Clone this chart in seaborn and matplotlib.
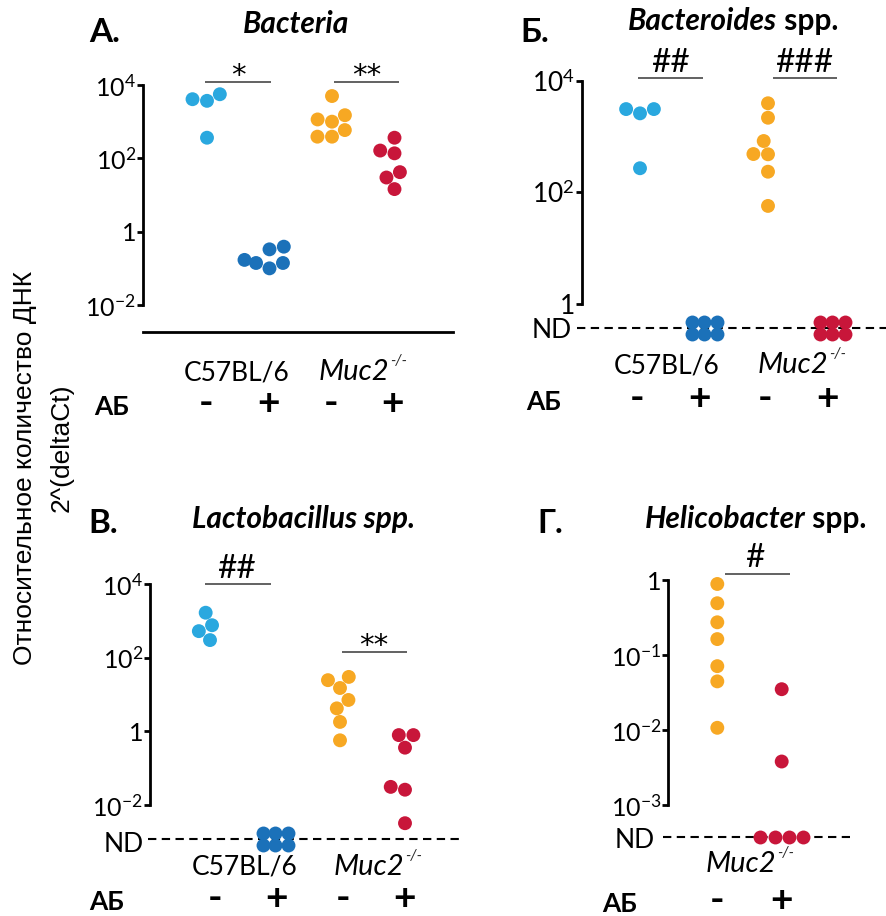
import numpy as np
import pandas as pd
import matplotlib
matplotlib.use("Agg")
import matplotlib.pyplot as plt
from matplotlib.ticker import FixedLocator, FixedFormatter, NullLocator
import seaborn as sns

nan = np.nan

# ---------------- data ----------------
groups = ["C57BL/6 АБ-", "C57BL/6 АБ+", "Muc2 АБ-", "Muc2 АБ+"]
group_colors = ["#2AA8DF", "#1B71B9", "#F7A823", "#C8163A"]

bacteria_c57_minus = [5600, 3700, 4100, 365]
bacteria_c57_plus = [0.39, 0.33, 0.14, 0.17, 0.10, 0.14]
bacteria_muc2_minus = [5000, 1150, 1000, 1500, 590, 390, 390]
bacteria_muc2_plus = [365, 137, 163, 30, 42, 14.5]

bacteroides_c57_minus = [2600, 3100, 3100, 270]
bacteroides_c57_plus = [nan, nan, nan, nan, nan, nan]          # ND
bacteroides_muc2_minus = [3940, 2170, 830, 485, 480, 234, 57]
bacteroides_muc2_plus = [nan, nan, nan, nan, nan, nan]         # ND

lacto_c57_minus = [1660, 525, 760, 300]
lacto_c57_plus = [nan, nan, nan, nan, nan, nan]                # ND
lacto_muc2_minus = [24.5, 30, 15, 7.1, 4.2, 1.8, 0.57]
lacto_muc2_plus = [0.79, 0.79, 0.36, 0.031, 0.026, 0.0032]

helico_muc2_minus = [0.885, 0.49, 0.273, 0.163, 0.071, 0.0445, 0.0107]
helico_muc2_plus = [0.035, 0.0038, nan, nan, nan, nan]         # 4 x ND

panel_letters = ["А.", "Б.", "В.", "Г."]
sig_bacteria = ["*", "**"]
sig_bacteroides = ["##", "###"]
sig_lacto = ["##", "**"]
sig_helico = ["#"]
ab_labels = ["-", "+", "-", "+"]

# ---------------- style ----------------
sns.set_theme(style="white")
FONT = ["Lato", "Open Sans", "DejaVu Sans"]
plt.rcParams["font.family"] = FONT
plt.rcParams["mathtext.fontset"] = "custom"
plt.rcParams["mathtext.rm"] = "Lato"
plt.rcParams["mathtext.it"] = "Lato:italic"
plt.rcParams["mathtext.bf"] = "Lato:bold"

W, H = 886, 916
fig = plt.figure(figsize=(W / 100, H / 100), dpi=100)
fig.patch.set_facecolor("white")

overlay = fig.add_axes([0, 0, 1, 1], zorder=10)
overlay.set_xlim(0, W)
overlay.set_ylim(H, 0)
overlay.axis("off")

def T(x, y, s, size=16, weight="normal", style="normal", ha="center", va="baseline", family=None, **kw):
    return overlay.text(x, y, s, fontsize=size, fontweight=weight, fontstyle=style,
                        ha=ha, va=va, family=family or FONT, color="black", **kw)

def L(x0, x1, y, color="#555555", lw=1.3):
    overlay.plot([x0, x1], [y, y], color=color, lw=lw, solid_capstyle="butt")

def MUC(x, y, size=21):
    t = T(x - 9, y, "Muc2", size=size, style="italic")
    overlay.annotate("-/-", xy=(1, 0), xycoords=t, xytext=(0.5, size * 0.68),
                     textcoords="offset points", fontsize=size * 0.52,
                     fontstyle="italic", ha="left", va="baseline", family=FONT)

PT = 10  # marker diameter (pt)


def panel(lay, series, order, colors, tick_logs):
    sx, right, top, bottom = lay["spine_x"], lay["right"], lay["top"], lay["bottom"]
    ax = fig.add_axes([sx / W, 1 - bottom / H, (right - sx) / W, (bottom - top) / H])
    ax.patch.set_alpha(0)
    cat0, sp = lay["cat0"], lay["cat_sp"]
    ref_y, ref_log, ppd = lay["ref_y"], lay["ref_log"], lay["ppd"]

    rows = []
    nd_counts = []
    for g, vals in zip(order, series):
        v = np.asarray(vals, dtype=float)
        nd_counts.append(int(np.isnan(v).sum()))
        for x in v[~np.isnan(v)]:
            rows.append((g, x))
    df = pd.DataFrame(rows, columns=["group", "value"])
    pal = dict(zip(order, colors))

    nd_log = None
    if lay.get("nd_y") is not None:
        nd_log = ref_log - (lay["nd_y"] - ref_y) / ppd
        x_start = (lay["nd_x0"] - cat0) / sp
        x_end = (lay["nd_x1"] - cat0) / sp
        ax.plot([x_start, x_end], [10 ** nd_log] * 2, color="black", lw=1.5,
                ls=(0, (4, 2.6)), clip_on=False, zorder=1)

    sns.swarmplot(data=df, x="group", y="value", hue="group", order=order,
                  hue_order=order, palette=pal, size=PT, linewidth=0,
                  legend=False, ax=ax, log_scale=True, zorder=3, clip_on=False)

    # ND clusters packed in a small grid
    if nd_log is not None:
        ncols, dx, dy = lay["nd_cols"], lay["nd_dx"], lay["nd_dy"]
        for i, (g, n) in enumerate(zip(order, nd_counts)):
            if n == 0:
                continue
            nrows = int(np.ceil(n / ncols))
            xs, ys = [], []
            for k in range(n):
                r, c = divmod(k, ncols)
                ox = (c - (ncols - 1) / 2) * dx
                oy = (r - (nrows - 1) / 2) * dy
                xs.append(i + ox / sp)
                ys.append(10 ** (nd_log - oy / ppd))
            sns.scatterplot(x=xs, y=ys, color=pal[g], s=PT ** 2, linewidth=0,
                            ax=ax, clip_on=False, zorder=4, legend=False)

    ax.set_yscale("log")
    ax.set_xlim(-(cat0 - sx) / sp, (right - cat0) / sp)
    ax.set_ylim(10 ** (ref_log - (bottom - ref_y) / ppd), 10 ** (ref_log + (ref_y - top) / ppd))
    ax.set_xticks([])
    ax.set_xlabel("")
    ax.set_ylabel("")
    for s in ["top", "right"]:
        ax.spines[s].set_visible(False)
    ax.spines["bottom"].set_visible(lay.get("bottom_spine", False))
    ax.spines["bottom"].set_linewidth(2)
    ax.spines["bottom"].set_color("black")
    ax.spines["left"].set_linewidth(2)
    ax.spines["left"].set_color("black")
    ax.spines["left"].set_bounds(10 ** min(tick_logs), 10 ** max(tick_logs))
    ticks = [10.0 ** t for t in tick_logs]
    labels = ["1" if t == 0 else r"$10^{%d}$" % t for t in tick_logs]
    ax.yaxis.set_major_locator(FixedLocator(ticks))
    ax.yaxis.set_major_formatter(FixedFormatter(labels))
    ax.yaxis.set_minor_locator(NullLocator())
    ax.tick_params(axis="y", direction="out", length=4, width=2, pad=1,
                   labelsize=lay.get("tick_size", 16), color="black", labelcolor="black", left=True)
    return ax


# ---------------- panel А: Bacteria ----------------
layA = dict(spine_x=143, right=453, top=55, bottom=332, cat0=207, cat_sp=62.5,
            ref_y=85, ref_log=4, ppd=36.67, bottom_spine=True, tick_size=18)
panel(layA, [bacteria_c57_minus, bacteria_c57_plus, bacteria_muc2_minus, bacteria_muc2_plus],
      groups, group_colors, [-2, 0, 2, 4])

# ---------------- panel Б: Bacteroides ----------------
layB = dict(spine_x=581.7, right=886, top=50, bottom=345, cat0=640, cat_sp=64,
            ref_y=80.7, ref_log=4, ppd=55.8, nd_y=328.3, nd_x0=576.7, nd_x1=886,
            nd_cols=3, nd_dx=12.5, nd_dy=12, tick_size=19)
panel(layB, [bacteroides_c57_minus, bacteroides_c57_plus, bacteroides_muc2_minus, bacteroides_muc2_plus],
      groups, group_colors, [0, 2, 4])

# ---------------- panel В: Lactobacillus ----------------
layV = dict(spine_x=150, right=463, top=560, bottom=855, cat0=210, cat_sp=65,
            ref_y=584, ref_log=4, ppd=36.83, nd_y=839, nd_x0=148, nd_x1=463,
            nd_cols=3, nd_dx=12.5, nd_dy=12, tick_size=18)
panel(layV, [lacto_c57_minus, lacto_c57_plus, lacto_muc2_minus, lacto_muc2_plus],
      groups, group_colors, [-2, 0, 2, 4])

# ---------------- panel Г: Helicobacter ----------------
layG = dict(spine_x=668.3, right=850, top=560, bottom=850, cat0=717.3, cat_sp=64.4,
            ref_y=580, ref_log=0, ppd=75, nd_y=837, nd_x0=663.3, nd_x1=850,
            nd_cols=4, nd_dx=14.4, nd_dy=12, tick_size=18)
panel(layG, [helico_muc2_minus, helico_muc2_plus], groups[2:], group_colors[2:], [-3, -2, -1, 0])

# ---------------- annotations ----------------
# panel letters
T(105, 41.7, panel_letters[0], size=24, weight="bold")
T(535, 41.7, panel_letters[1], size=24, weight="bold")
T(103.3, 533.3, panel_letters[2], size=24, weight="bold")
T(550, 533.3, panel_letters[3], size=24, weight="bold")

# titles
TS = 21.5
T(296.5, 33.3, "Bacteria", size=TS, weight="bold", style="italic")
T(777, 30, "Bacteroides", size=TS, weight="bold", style="italic", ha="right")
T(777, 30, " spp.", size=TS, weight="bold", ha="left")
T(304, 528.3, "Lactobacillus spp.", size=TS, weight="bold", style="italic")
T(805, 528.3, "Helicobacter", size=TS, weight="bold", style="italic", ha="right")
T(805, 528.3, " spp.", size=TS, weight="bold", ha="left")

# significance marks
AST = ["DejaVu Sans"]
T(238, 84, sig_bacteria[0], size=21, family=AST)
T(367, 84, sig_bacteria[1], size=21, family=AST)
L(205, 271, 81.7)
L(334, 399, 81.7)
T(670, 71.7, sig_bacteroides[0], size=24)
T(804, 71.7, sig_bacteroides[1], size=24)
L(638.3, 703.3, 78.3)
L(773.3, 837.3, 78.3)
T(236.7, 578.3, sig_lacto[0], size=24)
L(205, 271, 584.3)
T(373.3, 654, sig_lacto[1], size=21, family=AST)
L(341.7, 407.3, 651.7)
T(755, 566.7, sig_helico[0], size=24)
L(725, 790, 574.3)

# ND labels
T(571.7, 328.3, "ND", size=19, ha="right", va="center_baseline")
T(143.3, 841.7, "ND", size=19, ha="right", va="center_baseline")
T(655, 838.3, "ND", size=19, ha="right", va="center_baseline")

# strain labels
T(236.7, 380, "C57BL/6", size=19)
MUC(363, 380)
T(666.7, 373.3, "C57BL/6", size=19)
MUC(801.7, 373.3)
T(245, 875, "C57BL/6", size=19)
MUC(378.3, 875)
MUC(750, 871.7)

# АБ rows
def ab_row(x_ab, xs, y, labels):
    T(x_ab, y, "АБ", size=19, weight="bold")
    for x, s in zip(xs, labels):
        T(x, y, s, size=28, weight="bold")

ab_row(111.7, [206, 269, 331, 393], 415, ab_labels)
ab_row(543.3, [636.7, 700, 765, 828], 410, ab_labels)
ab_row(106.7, [215, 276.7, 343.3, 405], 910, ab_labels)
ab_row(620, [717.3, 781.7], 911.7, ab_labels[:2])

# y label
YL = ["Liberation Sans", "DejaVu Sans"]
T(25, 468, "Относительное количество ДНК", size=19, rotation=90, va="center", family=YL)
T(62, 448, "2^(deltaCt)", size=19, rotation=90, va="center", family=YL)

fig.savefig("out.png", dpi=100, facecolor="white")
